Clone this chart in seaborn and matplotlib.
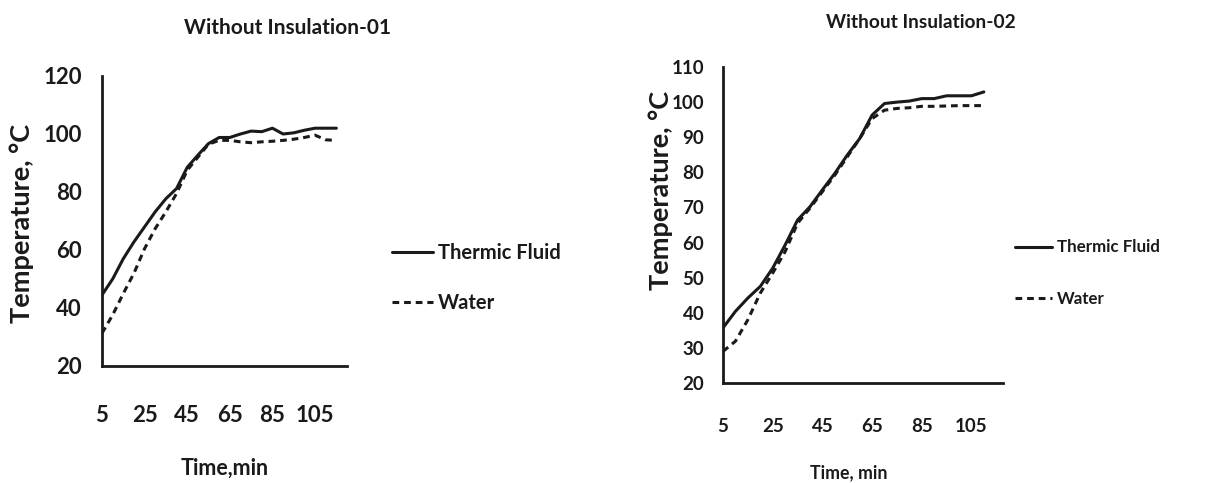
import numpy as np
import pandas as pd
import seaborn as sns
import matplotlib
matplotlib.use("Agg")
import matplotlib.pyplot as plt

# ---- data ----
time_01 = [5, 10, 15, 20, 25, 30, 35, 40, 45, 50, 55, 60, 65, 70, 75, 80, 85, 90, 95, 100, 105, 110, 115]
thermic_01 = [44.5, 50, 57, 62.8, 68, 73.2, 77.7, 81.2, 88.5, 92.7, 96.7, 98.8, 98.8, 100, 101, 100.8,
              102, 100, 100.4, 101.3, 102, 102, 102]
water_01 = [31.3, 37.6, 45, 52, 60.5, 67.4, 73.2, 79.5, 87.5, 92, 96.5, 97.8, 97.8, 97.3, 97, 97.3,
            97.5, 97.8, 98.2, 98.8, 99.6, 98, 97.8]

time_02 = [5, 10, 15, 20, 25, 30, 35, 40, 45, 50, 55, 60, 65, 70, 75, 80, 85, 90, 95, 100, 105, 110]
thermic_02 = [35.7, 40.4, 44.2, 47.5, 52.7, 59.3, 66.4, 70.2, 75, 79.7, 84.9, 89.6, 96.3, 99.6, 100,
              100.3, 101, 101, 101.8, 101.8, 101.8, 102.9]
water_02 = [29, 31.9, 38, 45.6, 51.3, 57.4, 65.5, 69.8, 74.5, 79.2, 84.4, 89.6, 95.3, 97.7, 98.2,
            98.4, 98.8, 98.8, 98.9, 99, 99, 99]

series_names = ["Thermic Fluid", "Water"]
x_ticks = [5, 25, 45, 65, 85, 105]
titles = ["Without Insulation-01", "Without Insulation-02"]
xlabels = ["Time,min", "Time, min"]
ylabel = "Temperature, °C"


def make_df(t, a, b):
    return pd.DataFrame({
        "Time": list(t) + list(t),
        "Temp": list(a) + list(b),
        "Series": [series_names[0]] * len(t) + [series_names[1]] * len(t),
    })


df1 = make_df(time_01, thermic_01, water_01)
df2 = make_df(time_02, thermic_02, water_02)

sns.set_style("white")
plt.rcParams["font.family"] = ["Lato", "DejaVu Sans"]
plt.rcParams["font.weight"] = "bold"

fig = plt.figure(figsize=(12.1, 4.83), dpi=100)
W, H = 1210, 483


def box(l, r, t, b):
    return [l / W, 1 - b / H, (r - l) / W, (b - t) / H]


ax1 = fig.add_axes(box(102, 347, 76, 366))
ax2 = fig.add_axes(box(723, 1003, 67, 383))

ink = "#1a1a1a"
dashes = {"Thermic Fluid": "", "Water": (2.2, 1.6)}

configs = [
    dict(ax=ax1, df=df1, xlim=(5, 120), ylim=(20, 120), ystep=20, tick_fs=16, title_fs=15,
         title_xy=(287, 28), xlab_fs=15.5, xlab_xy=(225, 468), ylab_fs=19.5, ylab_xy=(22, 223),
         xpad=24, ypad=10.5, leg_fs=14.5, leg_xy=(392, 278), leg_hl=41, leg_gap=50),
    dict(ax=ax2, df=df2, xlim=(5, 117.7), ylim=(20, 110), ystep=10, tick_fs=13.5, title_fs=13.8,
         title_xy=(921, 23), xlab_fs=12.8, xlab_xy=(849, 473), ylab_fs=19.5, ylab_xy=(661, 190),
         xpad=21, ypad=9.5, leg_fs=12.2, leg_xy=(1015, 273), leg_hl=37, leg_gap=52),
]

for i, c in enumerate(configs):
    ax = c["ax"]
    sns.lineplot(data=c["df"], x="Time", y="Temp", style="Series", dashes=dashes,
                 color=ink, linewidth=2.2, ax=ax, legend=True)
    ax.set_xlim(*c["xlim"])
    ax.set_ylim(*c["ylim"])
    ax.set_xticks(x_ticks)
    ax.set_yticks(np.arange(c["ylim"][0], c["ylim"][1] + 1, c["ystep"]))
    for s in ["top", "right"]:
        ax.spines[s].set_visible(False)
    for s in ["left", "bottom"]:
        ax.spines[s].set_color(ink)
        ax.spines[s].set_linewidth(2)
    ax.tick_params(axis="both", direction="out", length=4, width=1.8, color=ink,
                   labelsize=c["tick_fs"], labelcolor=ink)
    ax.tick_params(axis="x", pad=c["xpad"])
    ax.tick_params(axis="y", pad=c["ypad"])
    for lab in ax.get_xticklabels() + ax.get_yticklabels():
        lab.set_fontweight("bold")
    ax.set_xlabel("")
    ax.set_ylabel("")
    fig.text(c["title_xy"][0] / W, 1 - c["title_xy"][1] / H, titles[i],
             ha="center", va="center", fontsize=c["title_fs"], fontweight="bold", color=ink)
    fig.text(c["xlab_xy"][0] / W, 1 - c["xlab_xy"][1] / H, xlabels[i],
             ha="center", va="center", fontsize=c["xlab_fs"], fontweight="bold", color=ink)
    fig.text(c["ylab_xy"][0] / W, 1 - c["ylab_xy"][1] / H, ylabel, rotation=90,
             ha="center", va="center", fontsize=c["ylab_fs"], fontweight="bold", color=ink)
    handles, labels = ax.get_legend_handles_labels()
    ax.get_legend().remove()
    fs_px = c["leg_fs"] * 100 / 72
    leg = fig.legend(handles, labels, loc="center left",
                     bbox_to_anchor=(c["leg_xy"][0] / W, 1 - c["leg_xy"][1] / H),
                     frameon=False, fontsize=c["leg_fs"], borderpad=0, borderaxespad=0,
                     handlelength=c["leg_hl"] / fs_px, handletextpad=5 / fs_px,
                     labelspacing=(c["leg_gap"] - fs_px) / fs_px)
    for t in leg.get_texts():
        t.set_fontweight("bold")
        t.set_color(ink)

fig.savefig("out.png", dpi=100, facecolor="white")
